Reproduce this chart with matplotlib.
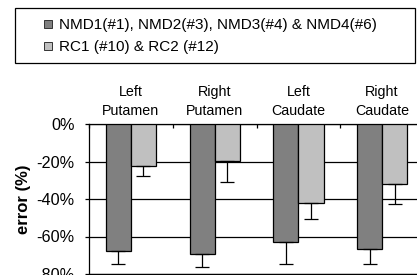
import matplotlib
matplotlib.use("Agg")
from matplotlib import pyplot as plt
from matplotlib.lines import Line2D
from matplotlib.patches import Rectangle
import numpy as np

plt.rcParams['font.family'] = ['Liberation Sans', 'DejaVu Sans']

# data
regions = ["Left\nPutamen", "Right\nPutamen", "Left\nCaudate", "Right\nCaudate"]
nmd_error = [-67.6, -69.2, -62.8, -66.7]
nmd_sd = [7.1, 7.1, 11.9, 8.0]
rc_error = [-22.2, -19.6, -42.3, -32.2]
rc_sd = [5.5, 11.3, 8.2, 10.3]
nmd_label = "NMD1(#1), NMD2(#3), NMD3(#4) & NMD4(#6)"
rc_label = "RC1 (#10) & RC2 (#12)"
y_ticks = [0, -20, -40, -60, -80]

dark = "#808080"
light = "#c0c0c0"

fig = plt.figure(figsize=(4.17, 2.75), dpi=100)
ax = fig.add_axes([89 / 417, 1 / 275, 335 / 417, 150 / 275])

x = np.arange(len(regions))
w = 0.3
ax.bar(x - w / 2, nmd_error, w, color=dark, edgecolor="black", linewidth=0.9,
       yerr=[nmd_sd, np.zeros(len(nmd_sd))], capsize=5,
       error_kw=dict(ecolor="black", elinewidth=0.9, capthick=0.9), zorder=3)
ax.bar(x + w / 2, rc_error, w, color=light, edgecolor="black", linewidth=0.9,
       yerr=[rc_sd, np.zeros(len(rc_sd))], capsize=5,
       error_kw=dict(ecolor="black", elinewidth=0.9, capthick=0.9), zorder=3)

ax.set_xlim(-0.5, len(regions) - 0.5)
ax.set_ylim(-80, 0)
ax.set_yticks(y_ticks)
ax.set_yticklabels([f"{v}%" for v in y_ticks], fontsize=11.7)
ax.tick_params(axis="y", direction="out", length=3, width=0.9, pad=7.5)
ax.yaxis.grid(True, color="black", linewidth=0.9, zorder=0)
ax.set_axisbelow(True)

ax.xaxis.tick_top()
ax.set_xticks(x)
ax.set_xticklabels(regions, fontsize=10.3, linespacing=1.5)
ax.tick_params(axis="x", which="major", length=0, pad=4)
ax.set_xticks(np.arange(len(regions) + 1) - 0.5, minor=True)
ax.tick_params(axis="x", which="minor", direction="in", length=3, width=0.9, top=True, bottom=False)

for s in ax.spines.values():
    s.set_linewidth(0.9)
    s.set_color("black")

ax.set_ylabel("error (%)", fontsize=12, fontweight="bold", labelpad=4)

# legend box
fig.patches.append(Rectangle((15 / 417, 1 - 63 / 275), 400 / 417, 55 / 275,
                             transform=fig.transFigure, fill=False,
                             edgecolor="black", linewidth=0.9))
handles = [
    Line2D([], [], marker="s", linestyle="none", markersize=6,
           markerfacecolor=dark, markeredgecolor="#333333", markeredgewidth=0.7),
    Line2D([], [], marker="s", linestyle="none", markersize=6,
           markerfacecolor=light, markeredgecolor="#333333", markeredgewidth=0.7),
]
fig.legend(handles, [nmd_label, rc_label], loc="upper left",
           bbox_to_anchor=(43 / 417, 1 - 18 / 275), frameon=False,
           fontsize=11, handlelength=0.7, handletextpad=0.35,
           labelspacing=0.55, borderpad=0, borderaxespad=0)

fig.savefig("out.png", dpi=100)
